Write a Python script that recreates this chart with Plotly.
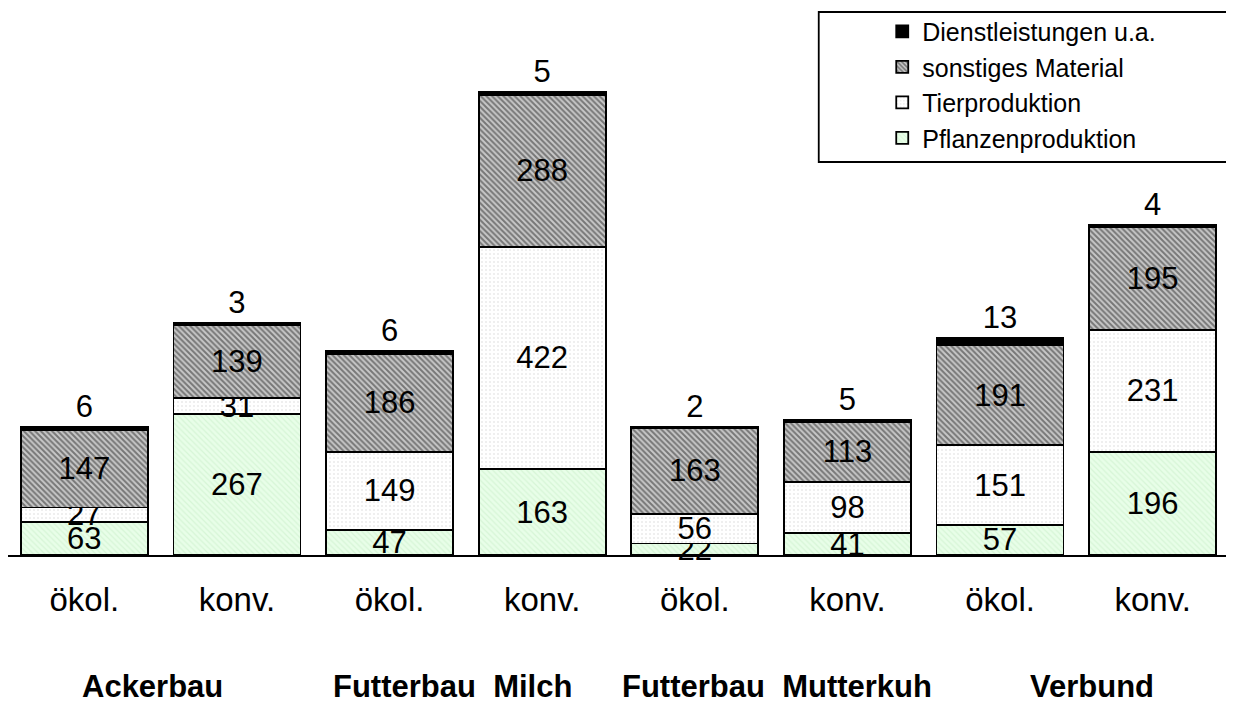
import plotly.graph_objects as go

categories = ["ökol.", "konv.", "ökol.", "konv.", "ökol.", "konv.", "ökol.", "konv."]
pflanzen = [63, 267, 47, 163, 22, 41, 57, 196]
tier = [27, 31, 149, 422, 56, 98, 151, 231]
sonstiges = [147, 139, 186, 288, 163, 113, 191, 195]
dienst = [6, 3, 6, 5, 2, 5, 13, 4]
group_labels = ["Ackerbau", "Futterbau  Milch", "Futterbau  Mutterkuh", "Verbund"]
group_pos = [0.45, 2.41, 4.54, 6.6]

x = list(range(len(categories)))
FONT = "Liberation Sans, Arial, sans-serif"
line = dict(color="black", width=1.8)

fig = go.Figure()
fig.add_bar(x=x, y=pflanzen, name="Pflanzenproduktion", text=pflanzen,
            textposition="inside", insidetextanchor="middle",
            marker=dict(color="#e4fbe4", line=line,
                        pattern=dict(shape="\\", fgcolor="#c4ecc4", bgcolor="#e8fee8", size=4, solidity=0.3)))
fig.add_bar(x=x, y=tier, name="Tierproduktion", text=tier,
            textposition="inside", insidetextanchor="middle",
            marker=dict(color="white", line=line,
                        pattern=dict(shape=".", fgcolor="#d4d4d4", bgcolor="white", size=4, solidity=0.2)))
fig.add_bar(x=x, y=sonstiges, name="sonstiges Material", text=sonstiges,
            textposition="inside", insidetextanchor="middle",
            marker=dict(color="#999999", line=line,
                        pattern=dict(shape="\\", fgcolor="#262626", bgcolor="#c8c8c8", size=4, solidity=0.5)))
fig.add_bar(x=x, y=dienst, name="Dienstleistungen u.a.", text=dienst,
            textposition="outside",
            marker=dict(color="black", line=line))

fig.update_traces(textfont=dict(family=FONT, size=31, color="black"), textangle=0, cliponaxis=False)

for lbl, pos in zip(group_labels, group_pos):
    fig.add_annotation(x=pos, y=-0.205, xref="x", yref="paper", text="<b>" + lbl + "</b>",
                       showarrow=False, font=dict(family=FONT, size=31, color="black"),
                       xanchor="center", yanchor="top")

# legend frame
fig.add_shape(type="rect", xref="paper", yref="paper", x0=0.664, x1=1.05, y0=0.7185, y1=0.9927,
              line=dict(color="black", width=1.8), fillcolor="rgba(0,0,0,0)", layer="above")

fig.update_layout(
    width=1221, height=696,
    barmode="stack", bargap=0.168,
    paper_bgcolor="white", plot_bgcolor="white",
    margin=dict(l=0, r=0, t=0, b=149),
    uniformtext=dict(minsize=31, mode="show"),
    font=dict(family=FONT, color="black"),
    showlegend=True,
    legend=dict(x=0.716, y=0.999, xanchor="left", yanchor="top",
                traceorder="reversed", borderwidth=0,
                bgcolor="rgba(0,0,0,0)", font=dict(family=FONT, size=25, color="black")),
    xaxis=dict(tickmode="array", tickvals=x, ticktext=categories,
               range=[-0.5, 7.5], showline=True, linecolor="black", linewidth=2,
               ticks="", ticklabelstandoff=14, tickfont=dict(family=FONT, size=33, color="black"),
               showgrid=False, zeroline=False),
    yaxis=dict(range=[0, 1038], visible=False, showgrid=False, zeroline=False),
)

fig.write_html("out.html")
